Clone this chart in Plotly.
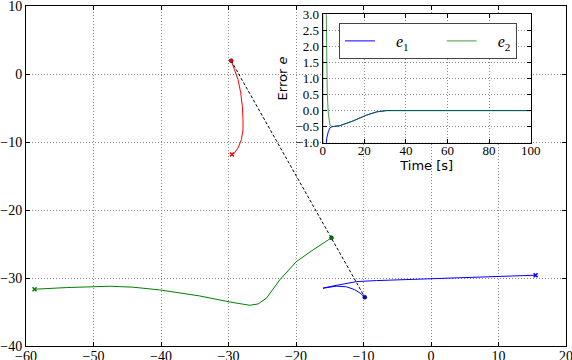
import plotly.graph_objects as go

# trajectories in the plane (main axes)
red_x = [-29.6, -29.08, -28.59, -28.19, -27.95, -27.85, -27.85, -28.09, -28.59, -29.1, -29.5]
red_y = [1.96, 0.65, -0.82, -2.78, -4.76, -6.72, -8.19, -9.66, -10.88, -11.6, -11.85]

green_x = [-58.74, -54.04, -47.62, -44.16, -40.2, -34.27, -29.83, -26.86, -25.63, -24.38, -22.41, -19.93, -17.47, -14.74]
green_y = [-31.65, -31.41, -31.21, -31.35, -31.75, -32.64, -33.52, -34.01, -33.82, -32.97, -30.28, -27.58, -25.86, -24.09]

blue_x = [15.5, 7.24, 0.08, -6.1, -8.07, -11.04, -13.03, -15.0, -16.0, -15.2, -14.0, -12.5, -11.3, -10.5, -9.81]
blue_y = [-29.59, -29.84, -30.03, -30.24, -30.38, -30.53, -30.87, -31.27, -31.5, -31.35, -31.2, -31.3, -31.72, -32.22, -32.83]

# final formation line (red end -> green end -> blue end)
form_x = [-29.6, -14.74, -9.81]
form_y = [1.96, -24.09, -32.83]

# error signals (inset)
t1 = [0, 0.05, 1.6, 2.0, 2.7, 3.5, 4.5, 8.3, 14.7, 21.1, 26, 30.8, 40, 60, 80, 100]
e1 = [20, -3, -1.1, -0.85, -0.66, -0.54, -0.5, -0.47, -0.32, -0.14, -0.04, 0.0, 0.0, 0.0, 0.0, 0.0]
t2 = [0, 1.4, 1.6, 1.9, 2.2, 2.7, 3.5, 4.5, 8.3, 14.7, 21.1, 26, 30.8, 40, 60, 80, 100]
e2 = [12, 3.5, 3.0, 1.58, 0.54, -0.08, -0.45, -0.5, -0.47, -0.32, -0.14, -0.04, 0.0, 0.0, 0.0, 0.0, 0.0]

fig = go.Figure()

fig.add_trace(go.Scatter(x=red_x, y=red_y, mode='lines', line=dict(color='#ff0000', width=1), showlegend=False))
fig.add_trace(go.Scatter(x=green_x, y=green_y, mode='lines', line=dict(color='#008000', width=1), showlegend=False))
fig.add_trace(go.Scatter(x=blue_x, y=blue_y, mode='lines', line=dict(color='#0000ff', width=1), showlegend=False))

# start markers (x)
fig.add_trace(go.Scatter(x=[red_x[-1], green_x[0], blue_x[0]], y=[red_y[-1], green_y[0], blue_y[0]],
                         mode='markers', showlegend=False,
                         marker=dict(symbol='x-thin', size=4, color=['#ff0000', '#008000', '#0000ff'],
                                     line=dict(width=1.5, color=['#ff0000', '#008000', '#0000ff']))))

fig.add_trace(go.Scatter(x=form_x, y=form_y, mode='lines', line=dict(color='black', width=1, dash='3px,2px'),
                         showlegend=False))

# end markers (dots)
fig.add_trace(go.Scatter(x=form_x, y=form_y, mode='markers', showlegend=False,
                         marker=dict(symbol='circle', size=4, color=['#ff0000', '#008000', '#0000ff'],
                                     line=dict(width=0.5, color='black'))))

# inset
sp = '\u00a0' * 4
fig.add_trace(go.Scatter(x=t1, y=e1, mode='lines', name=sp + '<i>e</i><sub>1</sub>' + '\u00a0' * 7,
                         xaxis='x2', yaxis='y2', line=dict(color='#0000ff', width=1)))
fig.add_trace(go.Scatter(x=t2, y=e2, mode='lines', name=sp + '<i>e</i><sub>2</sub>',
                         xaxis='x2', yaxis='y2', line=dict(color='rgba(0,128,0,0.75)', width=1)))

tickfont = dict(family='Liberation Serif', size=14, color='black')
ax_common = dict(showline=True, linecolor='black', linewidth=1, mirror='ticks', ticks='inside',
                 ticklen=4, tickcolor='black', showgrid=True, gridcolor='#888', gridwidth=1,
                 griddash='1px,2px', zeroline=False, tickfont=tickfont, automargin=False,
                 ticklabeloverflow='allow')
inset_font = dict(family='Liberation Serif', size=13, color='black')

fig.update_layout(
    template='none',
    width=572, height=360,
    margin=dict(l=26, r=6, t=6, b=14),
    paper_bgcolor='white', plot_bgcolor='white',
    xaxis=dict(range=[-60, 20], dtick=10, domain=[0, 1], ticklabelstandoff=-3, **ax_common),
    yaxis=dict(range=[-40, 10], dtick=10, domain=[0, 1], **ax_common),
    xaxis2=dict(range=[0, 100], dtick=20, domain=[0.5494, 0.9346], anchor='y2', ticklabelstandoff=-4,
                title=dict(text='Time [s]', font=dict(family='DejaVu Sans', size=13, color='black'), standoff=0),
                **dict(ax_common, tickfont=inset_font)),
    yaxis2=dict(range=[-1, 3], dtick=0.5, tickformat='.1f', domain=[0.598, 0.9756], anchor='x2',
                title=dict(text='Error <i>e</i>', font=dict(family='DejaVu Sans', size=13, color='black'), standoff=4),
                **dict(ax_common, tickfont=inset_font)),
    showlegend=True,
    legend=dict(x=0.5796, y=0.95, xanchor='left', yanchor='top', orientation='h',
                bgcolor='white', bordercolor='#444', borderwidth=1,
                font=dict(family='Liberation Serif', size=16, color='black'),
                itemwidth=30),
)

fig.write_html("out.html", config={'displayModeBar': False},
               post_script="document.body.style.margin='0';document.body.style.overflow='hidden';")
